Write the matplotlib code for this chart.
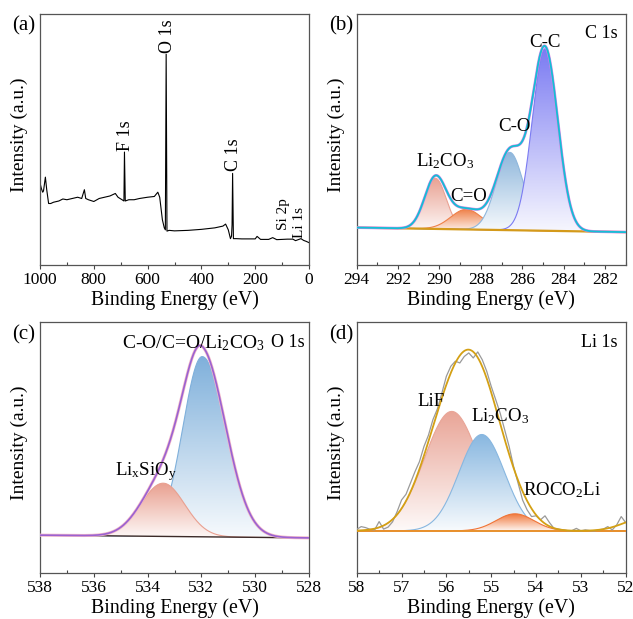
import numpy as np
import matplotlib
matplotlib.use('Agg')
from matplotlib import pyplot as plt
from matplotlib import colors as mcolors
from matplotlib.patches import Polygon
from matplotlib.ticker import MultipleLocator

plt.rcParams['font.family'] = ['Liberation Serif', 'DejaVu Serif']
plt.rcParams['mathtext.fontset'] = 'custom'
plt.rcParams['mathtext.rm'] = 'Liberation Serif'
plt.rcParams['mathtext.it'] = 'Liberation Serif:italic'

# (a) survey spectrum
survey_be = [1000, 995, 990, 987, 980, 975, 968, 960, 950, 930, 915, 900, 880, 860, 845,
             835, 830, 820, 800, 780, 760, 740, 720, 710, 695, 688, 686, 683, 670, 650,
             630, 600, 575, 562, 555, 545, 538, 534, 531, 528, 520, 500, 450, 400, 350,
             320, 310, 300, 292, 288, 286, 284, 281, 270, 250, 200, 193, 180, 150, 135,
             120, 100, 80, 60, 50, 30, 20, 10, 0]
survey_int = [32.7, 30.5, 29.0, 29.5, 35.0, 30.0, 24.5, 24.5, 25.0, 25.5, 26.3, 26.0, 26.5, 27.0, 26.5,
              30.0, 26.5, 26.0, 25.3, 26.5, 27.0, 27.5, 28.5, 27.0, 26.0, 25.5, 45.0, 25.5, 26.0, 26.0,
              26.5, 27.0, 27.3, 29.0, 27.0, 18.0, 14.8, 14.0, 84.0, 13.5, 13.8, 13.6, 13.8, 14.2, 14.8,
              15.5, 16.3, 14.0, 10.5, 11.5, 16.0, 36.5, 10.5, 10.5, 10.4, 10.4, 11.4, 10.2, 10.2, 10.9,
              10.1, 10.2, 10.3, 10.3, 9.7, 10.5, 9.8, 9.4, 8.9]
survey_labels = ['O 1s', 'F 1s', 'C 1s', 'Si 2p', 'Li 1s']
survey_label_be = [526, 683, 280, 94, 37]
survey_label_y = [84.5, 45.5, 37.5, 14.0, 10.8]
survey_label_size = [13, 13, 13, 11, 11]

# (b) C 1s fit: centre, height above baseline, sigma
c1s_names = ['Li$_2$CO$_3$', 'C=O', 'C-O', 'C-C']
c1s_center = [290.2, 288.7, 286.6, 284.9]
c1s_height = [20.2, 8.0, 31.0, 72.5]
c1s_sigma = [0.52, 0.75, 0.66, 0.62]
c1s_colors = ['#e9a293', '#ef8048', '#8fb7dc', '#7b7bf2']
c1s_base_be = [294, 281]
c1s_base = [14.9, 13.1]
c1s_label_xy = [(289.7, 37.4), (288.6, 24.1), (286.4, 51.6), (284.9, 85.4)]

# (c) O 1s fit: centre, height, sigma on high-BE side, sigma on low-BE side
o1s_names = ['Li$_\\mathrm{x}$SiO$_\\mathrm{y}$', 'C-O/C=O/Li$_2$CO$_3$']
o1s_center = [533.42, 531.97]
o1s_height = [21.2, 71.8]
o1s_sig_hi = [0.83, 0.72]
o1s_sig_lo = [0.80, 0.88]
o1s_colors = ['#e9a090', '#7fb0db']
o1s_base_be = [538, 528]
o1s_base = [15.2, 14.1]
o1s_label_xy = [(534.05, 36.0), (532.3, 87.8)]

# (d) Li 1s fit and raw counts
li1s_names = ['LiF', 'Li$_2$CO$_3$', 'ROCO$_2$Li']
li1s_center = [55.88, 55.21, 54.47]
li1s_height = [47.6, 38.4, 6.8]
li1s_sigma = [0.61, 0.51, 0.42]
li1s_colors = ['#e9a597', '#88b7e0', '#f07436']
li1s_base = 16.9
li1s_tail = (51.6, 5.0, 0.45)   # rising background at the low-BE end of the envelope
li1s_label_xy = [(56.35, 65.1), (54.8, 58.6), (53.43, 29.4)]
li1s_raw_be = np.round(np.arange(58.0, 51.95, -0.1), 1)
li1s_raw = [17.5, 18.6, 18.2, 17.5, 17.3, 20.6, 17.6, 18.4, 20.5, 24.5,
            29.2, 31.5, 36.0, 40.5, 44.5, 50.5, 55.0, 61.2, 65.5, 71.8,
            78.5, 82.5, 84.5, 83.8, 86.4, 87.8, 85.8, 88.2, 85.1, 80.5,
            74.5, 69.2, 63.8, 57.2, 50.5, 42.5, 35.9, 29.2, 25.3, 22.6,
            22.9, 21.3, 22.9, 20.2, 17.9, 17.6, 17.3, 17.0, 17.0, 17.9,
            16.9, 17.3, 17.0, 16.9, 17.3, 17.6, 18.6, 17.3, 19.3, 22.6, 20.2]


def gauss(x, c, h, s_hi, s_lo=None):
    if s_lo is None:
        s_lo = s_hi
    s = np.where(x >= c, s_hi, s_lo)
    return h * np.exp(-(x - c) ** 2 / (2 * s ** 2))


def grad_fill(ax, x, base, top, color, z):
    verts = np.column_stack([np.r_[x, x[::-1]], np.r_[top, base[::-1]]])
    patch = Polygon(verts, closed=True, fc='none', ec='none')
    ax.add_patch(patch)
    rgb = np.array(mcolors.to_rgb(color))
    t = np.linspace(0, 1, 256)[:, None]
    mix = 0.06 + 0.94 * t
    img = ((1 - mix) + mix * rgb)[:, None, :]
    im = ax.imshow(img, extent=[x.min(), x.max(), base.min(), top.max()],
                   origin='lower', aspect='auto', zorder=z, interpolation='bilinear')
    im.set_clip_path(patch)
    ax.plot(x, top, color=color, lw=0.8, zorder=z + 0.1)


def style(ax, xlim, major, minor):
    ax.set_xlim(*xlim)
    ax.set_ylim(0, 100)
    ax.set_yticks([])
    ax.xaxis.set_major_locator(MultipleLocator(major))
    ax.xaxis.set_minor_locator(MultipleLocator(minor))
    ax.tick_params(axis='x', which='major', direction='out', length=3, width=0.8,
                   labelsize=12.5, pad=2, color='#444444')
    ax.tick_params(axis='x', which='minor', direction='in', length=2.5, width=0.8,
                   color='#444444')
    for sp in ax.spines.values():
        sp.set_color('#555555')
        sp.set_linewidth(0.9)
    ax.set_xlabel('Binding Energy (eV)', fontsize=14.3)
    ax.xaxis.set_label_coords(0.5, -0.1)
    ax.set_ylabel('Intensity (a.u.)', fontsize=14)
    ax.yaxis.set_label_coords(-0.045, 0.52)


fig = plt.figure(figsize=(6.33, 6.19), dpi=100)
W, H = 269 / 633, 251 / 619
ax_a = fig.add_axes([40 / 633, 1 - 265 / 619, W, H])
ax_b = fig.add_axes([356.7 / 633, 1 - 265 / 619, W, H])
ax_c = fig.add_axes([40 / 633, 1 - 573.3 / 619, W, H])
ax_d = fig.add_axes([356.7 / 633, 1 - 573.3 / 619, W, H])

# (a)
ax_a.plot(survey_be, survey_int, color='black', lw=0.8)
for lab, xb, yb, fs in zip(survey_labels, survey_label_be, survey_label_y, survey_label_size):
    ax_a.text(xb, yb, lab, rotation=90, ha='center', va='bottom', fontsize=fs)
style(ax_a, (1000, 0), 200, 100)

# (b)
xb = np.linspace(294, 281, 800)
base_b = np.interp(xb, c1s_base_be[::-1], c1s_base[::-1])
env_b = base_b.copy()
for i, (c, h, s, col) in enumerate(zip(c1s_center, c1s_height, c1s_sigma, c1s_colors)):
    g = gauss(xb, c, h, s)
    env_b += g
    grad_fill(ax_b, xb, base_b, base_b + g, col, 2 + i)
ax_b.plot(xb, base_b, color='#d49a1a', lw=1.6, zorder=8)
ax_b.plot(xb, env_b, color='#d884e6', lw=2.0, zorder=9)
ax_b.plot(xb, env_b, color='#12c0d4', lw=1.3, zorder=10)
for lab, (x, y) in zip(c1s_names, c1s_label_xy):
    ax_b.text(x, y, lab, ha='center', va='bottom', fontsize=13.6, zorder=11)
ax_b.text(0.97, 0.955, 'C 1s', transform=ax_b.transAxes, ha='right', va='top', fontsize=13)
style(ax_b, (294, 281), 2, 1)

# (c) - LixSiOy component sits on top of the main one
xc = np.linspace(538, 528, 800)
base_c = np.interp(xc, o1s_base_be[::-1], o1s_base[::-1])
env_c = base_c.copy()
for i, (c, h, sh, sl, col) in enumerate(zip(o1s_center, o1s_height, o1s_sig_hi, o1s_sig_lo, o1s_colors)):
    g = gauss(xc, c, h, sh, sl)
    env_c += g
    grad_fill(ax_c, xc, base_c, base_c + g, col, 4 - 2 * i)
ax_c.plot(xc, base_c, color='#3b2a28', lw=1.0, zorder=8)
ax_c.plot(xc, env_c, color='#f2b8c8', lw=2.2, zorder=9)
ax_c.plot(xc, env_c, color='#9a62d2', lw=1.2, zorder=10)
ax_c.text(o1s_label_xy[0][0], o1s_label_xy[0][1], o1s_names[0], ha='center', va='bottom', fontsize=13.6, zorder=11)
ax_c.text(o1s_label_xy[1][0], o1s_label_xy[1][1], o1s_names[1], ha='center', va='bottom', fontsize=14, zorder=11)
ax_c.text(0.985, 0.955, 'O 1s', transform=ax_c.transAxes, ha='right', va='top', fontsize=13)
style(ax_c, (538, 528), 2, 1)

# (d)
xd = np.linspace(58, 52, 800)
base_d = np.full_like(xd, li1s_base)
env_d = base_d + gauss(xd, *li1s_tail)
for i, (c, h, s, col) in enumerate(zip(li1s_center, li1s_height, li1s_sigma, li1s_colors)):
    g = gauss(xd, c, h, s)
    env_d += g
    grad_fill(ax_d, xd, base_d, base_d + g, col, 2 + i)
ax_d.plot(xd, base_d, color='#e8902c', lw=1.4, zorder=8)
ax_d.plot(li1s_raw_be, li1s_raw, color='#9a9a9a', lw=0.9, zorder=9)
ax_d.plot(xd, env_d, color='#d4a014', lw=1.3, zorder=10)
for lab, (x, y) in zip(li1s_names, li1s_label_xy):
    ax_d.text(x, y, lab, ha='center', va='bottom', fontsize=13.6, zorder=11)
ax_d.text(0.97, 0.955, 'Li 1s', transform=ax_d.transAxes, ha='right', va='top', fontsize=13)
style(ax_d, (58, 52), 1, 0.5)

# panel letters
for ax, lab in zip([ax_a, ax_b, ax_c, ax_d], ['(a)', '(b)', '(c)', '(d)']):
    ax.text(-0.102, 0.99, lab, transform=ax.transAxes, ha='left', va='top', fontsize=15)

fig.savefig('out.png', dpi=100)
